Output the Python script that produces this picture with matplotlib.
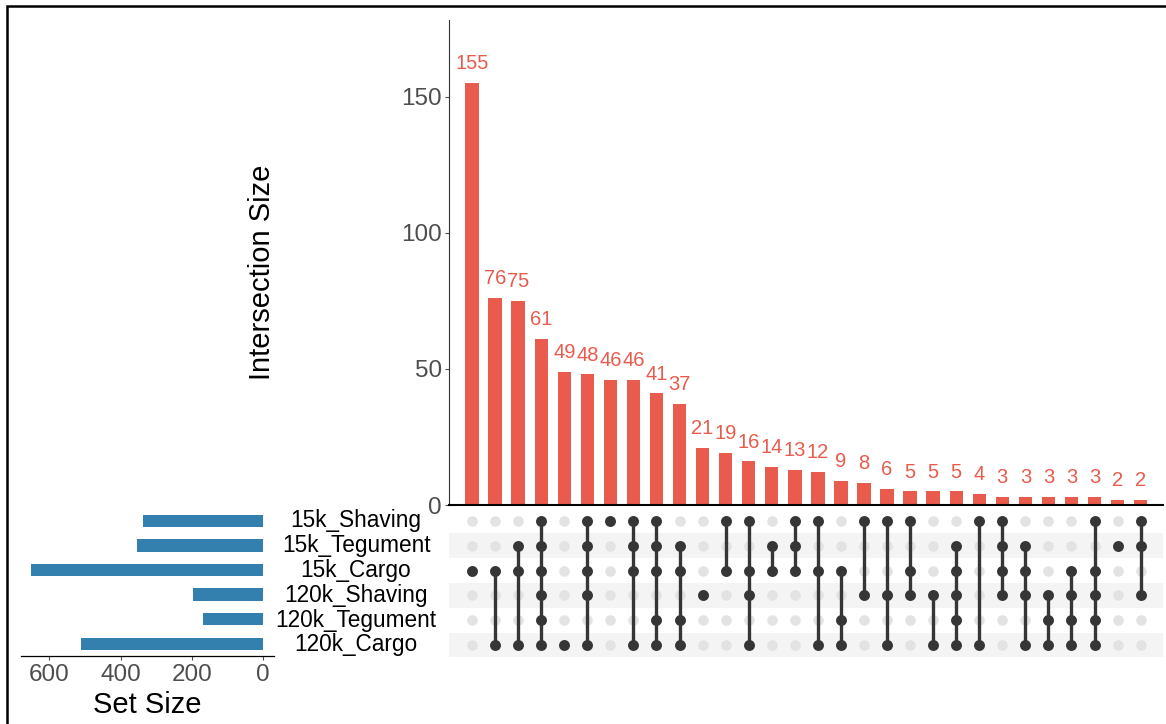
import numpy as np
import matplotlib
matplotlib.use("Agg")
from matplotlib import pyplot as plt
from matplotlib.patches import Rectangle

plt.rcParams['font.family'] = ['Liberation Sans', 'DejaVu Sans']

# set names, top to bottom in the matrix
sets = ['15k_Shaving', '15k_Tegument', '15k_Cargo', '120k_Shaving', '120k_Tegument', '120k_Cargo']
set_sizes = [336, 354, 650, 198, 168, 510]

# intersection sizes, sorted, and which sets each one uses (row index into sets)
inter_sizes = [155, 76, 75, 61, 49, 48, 46, 46, 41, 37, 21, 19, 16, 14, 13,
               12, 9, 8, 6, 5, 5, 5, 4, 3, 3, 3, 3, 3, 2, 2]
inter_members = [
    [2], [2, 5], [1, 2, 5], [0, 1, 2, 3, 4, 5], [5], [0, 1, 2, 3, 5], [0],
    [0, 1, 2, 5], [0, 1, 2, 4, 5], [1, 2, 4, 5], [3], [0, 2], [0, 2, 3, 5],
    [1, 2], [0, 1, 2], [0, 2, 5], [2, 4, 5], [0, 3], [0, 3, 5], [0, 2, 3],
    [3, 5], [1, 2, 3, 4, 5], [0, 5], [0, 1, 2, 3], [1, 2, 3, 5], [3, 4, 5],
    [2, 3, 4, 5], [0, 2, 3, 4, 5], [1], [0, 1, 3],
]

red = '#E95B4D'
blue = '#3380AE'
dark = '#363636'
light = '#E3E3E3'
tick_gray = '#4D4D4D'

W, H = 1166, 724
fig = plt.figure(figsize=(W / 100, H / 100), dpi=100)

def box(x0, y0, x1, y1):
    # pixel box (top-left origin) -> figure fraction
    return [x0 / W, 1 - y1 / H, (x1 - x0) / W, (y1 - y0) / H]

n = len(inter_sizes)
xs = np.arange(n)

# main bar chart
ax_bar = fig.add_axes(box(449, 20, 1163, 505))
ax_bar.bar(xs, inter_sizes, width=0.58, color=red)
for x, v in zip(xs, inter_sizes):
    ax_bar.annotate(str(v), (x, v), xytext=(0, 10), textcoords='offset points',
                    ha='center', va='baseline', color=red, fontsize=14.5)
ax_bar.set_xlim(-1.0, n - 0.03)
ax_bar.set_ylim(0, 178.3)
ax_bar.set_yticks([0, 50, 100, 150])
ax_bar.set_xticks([])
ax_bar.spines[['top', 'right']].set_visible(False)
ax_bar.spines['left'].set_color('#333333')
ax_bar.spines['left'].set_linewidth(0.8)
ax_bar.spines['bottom'].set_color('black')
ax_bar.spines['bottom'].set_linewidth(1.5)
ax_bar.tick_params(axis='y', labelsize=17.5, colors=tick_gray, length=3, pad=2)
fig.text(262 / W, 1 - 272 / H, 'Intersection Size', rotation=90,
         ha='center', va='center', fontsize=21)

# matrix
ax_m = fig.add_axes(box(449, 508.6, 1163, 657.4))
ax_m.set_xlim(-1.0, n - 0.03)
ax_m.set_ylim(len(sets) - 0.5, -0.5)
for r in range(len(sets)):
    if r % 2 == 1:
        ax_m.axhspan(r - 0.5, r + 0.5, color='#F4F4F4', lw=0, zorder=0)
gx, gy = np.meshgrid(xs, np.arange(len(sets)))
ax_m.scatter(gx.ravel(), gy.ravel(), s=58, color=light, lw=0, zorder=1)
for x, mem in zip(xs, inter_members):
    if len(mem) > 1:
        ax_m.plot([x, x], [min(mem), max(mem)], color=dark, lw=2.4, zorder=2)
    ax_m.scatter([x] * len(mem), mem, s=62, color=dark, lw=0, zorder=3)
ax_m.axis('off')

# set size bars
ax_s = fig.add_axes(box(20.7, 508.6, 274, 656))
ax_s.barh(np.arange(len(sets)), set_sizes, height=0.5, color=blue)
ax_s.set_ylim(len(sets) - 0.5, -0.5)
ax_s.set_xlim(680, -30)
ax_s.set_xticks([600, 400, 200, 0])
ax_s.set_yticks([])
ax_s.spines[['top', 'right', 'left']].set_visible(False)
ax_s.spines['bottom'].set_linewidth(0.9)
ax_s.tick_params(axis='x', labelsize=17.5, colors=tick_gray, length=3, pad=3)
fig.text(147 / W, 1 - 705 / H, 'Set Size', ha='center', va='center', fontsize=21)

for r, name in enumerate(sets):
    fig.text(356 / W, 1 - (521 + r * 24.8) / H, name, ha='center', va='center',
             fontsize=16.3)

# outer frame, cut off on the right and bottom
fig.patches.append(Rectangle((7 / W, -0.1), 1.2, 1 - 6 / H + 0.1,
                             transform=fig.transFigure, fill=False,
                             edgecolor='black', lw=1.8))

plt.savefig('out.png', dpi=100)
